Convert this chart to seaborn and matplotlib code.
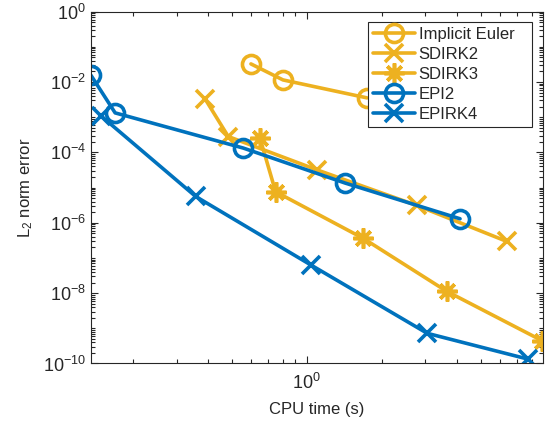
import matplotlib
matplotlib.use('Agg')
import matplotlib.pyplot as plt
import matplotlib.ticker as mtick
import numpy as np
import seaborn as sns

# CPU time (s) and L2 norm error for each method
ie_time = [0.597, 0.803, 1.747]
ie_err = [3.28e-2, 1.15e-2, 3.55e-3]

sdirk2_time = [0.3905, 0.484, 1.097, 2.77, 6.36]
sdirk2_err = [3.33e-3, 2.83e-4, 3.21e-5, 3.1e-6, 2.96e-7]

sdirk3_time = [0.649, 0.750, 1.688, 3.649, 8.85]
sdirk3_err = [2.55e-4, 7.62e-6, 3.6e-7, 1.13e-8, 4.4e-10]

epi2_time = [0.136, 0.170, 0.556, 1.425, 4.13]
epi2_err = [1.55e-2, 1.33e-3, 1.33e-4, 1.35e-5, 1.3e-6]

epirk4_time = [0.149, 0.358, 1.04, 3.05, 7.75]
epirk4_err = [1.1e-3, 5.6e-6, 6.3e-8, 7.2e-10, 1.33e-10]

labels = ['Implicit Euler', 'SDIRK2', 'SDIRK3', 'EPI2', 'EPIRK4']
x_ticks = [1.0]
y_ticks = [1e-10, 1e-8, 1e-6, 1e-4, 1e-2, 1.0]

blue = '#0072BD'
yellow = '#EDB120'
dark = '#262626'

sns.set_style('ticks')
plt.rcParams['font.family'] = ['Liberation Sans', 'DejaVu Sans']
plt.rcParams['mathtext.fontset'] = 'custom'
plt.rcParams['mathtext.rm'] = 'Liberation Sans'
plt.rcParams['mathtext.it'] = 'Liberation Sans'

fig = plt.figure(figsize=(5.54, 4.24), dpi=100)
ax = fig.add_axes([0.1643, 0.1427, 0.8157, 0.8297])

series = [
    (ie_time, ie_err, yellow, 'o', 13),
    (sdirk2_time, sdirk2_err, yellow, 'x', 13.5),
    (sdirk3_time, sdirk3_err, yellow, (8, 2, 0), 14.5),
    (epi2_time, epi2_err, blue, 'o', 13),
    (epirk4_time, epirk4_err, blue, 'x', 13.5),
]

for (t, e, c, m, ms), lab in zip(series, labels):
    sns.lineplot(x=t, y=e, ax=ax, color=c, marker=m, markersize=ms,
                 markerfacecolor='none', markeredgecolor=c, markeredgewidth=2.6,
                 linewidth=2.6, sort=False, label=lab)

ax.set_xscale('log')
ax.set_yscale('log')
ax.set_xlim(0.136, 8.89)
ax.set_ylim(1e-10, 1)

# ticks like MATLAB: inside, on all sides
ax.yaxis.set_major_locator(mtick.FixedLocator(y_ticks))
ax.yaxis.set_minor_locator(mtick.LogLocator(base=10, subs=np.arange(1, 10), numticks=20))
ax.yaxis.set_minor_formatter(mtick.NullFormatter())
ax.xaxis.set_major_locator(mtick.FixedLocator(x_ticks))
ax.xaxis.set_minor_locator(mtick.LogLocator(base=10, subs=np.arange(2, 10), numticks=20))
ax.xaxis.set_minor_formatter(mtick.NullFormatter())
ax.tick_params(which='both', direction='in', top=True, right=True,
               colors=dark, labelsize=13, width=0.8)
ax.tick_params(which='major', length=5)
ax.tick_params(which='minor', length=3)
ax.tick_params(axis='x', which='major', pad=7)
for s in ax.spines.values():
    s.set_color(dark)
    s.set_linewidth(0.8)

ax.set_xlabel('CPU time (s)', fontsize=12, color=dark, labelpad=6)
ax.set_ylabel('L$_2$ norm error', fontsize=12, color=dark, labelpad=6)

leg = ax.legend(loc='upper left', bbox_to_anchor=(0.6128, 0, 0.3628, 0.9707),
                mode='expand', borderaxespad=0, fontsize=12, frameon=True,
                fancybox=False, edgecolor=dark, framealpha=1, handlelength=2.5,
                handletextpad=0.25, borderpad=0.3, labelspacing=0.3)
leg.get_frame().set_linewidth(0.8)

fig.savefig('out.png', dpi=100)
